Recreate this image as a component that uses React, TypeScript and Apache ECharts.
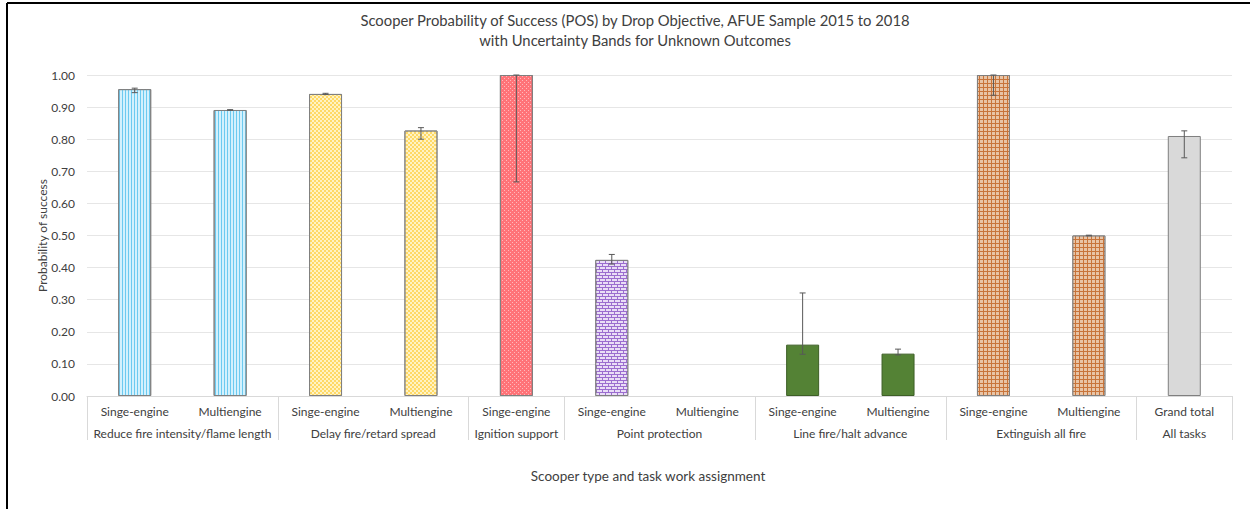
import React, { useEffect, useRef } from "react";
import * as echarts from "echarts";

const subLabels = [
  "Singe-engine", "Multiengine", "Singe-engine", "Multiengine", "Singe-engine",
  "Singe-engine", "Multiengine", "Singe-engine", "Multiengine", "Singe-engine",
  "Multiengine", "Grand total",
];
const groupLabels = [
  "Reduce fire intensity/flame length", "Delay fire/retard spread", "Ignition support",
  "Point protection", "Line fire/halt advance", "Extinguish all fire", "All tasks",
];
const groupSizes = [2, 2, 1, 2, 2, 2, 1];
const pos = [0.956, 0.891, 0.941, 0.827, 1.0, 0.424, null, 0.16, 0.132, 1.0, 0.5, 0.81];
const errLow = [0.945, 0.89, 0.939, 0.8, 0.667, 0.411, null, 0.13, 0.128, 0.937, 0.499, 0.742];
const errHigh = [0.959, 0.892, 0.943, 0.836, 1.0, 0.441, null, 0.321, 0.146, 1.0, 0.501, 0.826];
const groupOf = [0, 0, 1, 1, 2, 3, 3, 4, 4, 5, 5, 6];
const yTicks = [0, 0.1, 0.2, 0.3, 0.4, 0.5, 0.6, 0.7, 0.8, 0.9, 1.0];

const FONT = "Lato, 'Liberation Sans', sans-serif";
const BORDER = "#7f7f7f";

const groupStyles: any[] = [
  {
    color: "#d3f1fd",
    decal: { symbol: "rect", symbolSize: 1, color: "#6ccaf0", backgroundColor: "#d6f2fd",
      dashArrayX: [1, 0], dashArrayY: [1, 2], rotation: Math.PI / 2 },
  },
  {
    color: "#fff3c4",
    decal: { symbol: "rect", symbolSize: 1, color: "#ffd966", backgroundColor: "#fff8dc",
      dashArrayX: [[2, 2], [0, 2, 2, 0]], dashArrayY: [2, 0] },
  },
  {
    color: "#ff7378",
    decal: { symbol: "rect", symbolSize: 1, color: "rgba(255,255,255,0.5)", backgroundColor: "#ff7378",
      dashArrayX: [[1, 3], [0, 2, 1, 1]], dashArrayY: [1, 1] },
  },
  {
    color: "#9b6dcf",
    decal: { symbol: "rect", symbolSize: 1, color: "#e9ddf6", backgroundColor: "#9b6dcf",
      dashArrayX: [[5, 1], [2, 1, 3, 0]], dashArrayY: [2, 1] },
  },
  { color: "#548235", borderColor: "#3d5f26", decal: "none" },
  {
    color: "#c8743a",
    decal: { symbol: "rect", symbolSize: 1, color: "#e8c4a6", backgroundColor: "#c05e1c",
      dashArrayX: [3, 1], dashArrayY: [3, 1] },
  },
  { color: "#d9d9d9", decal: "none" },
];

export default function App() {
  const ref = useRef<HTMLDivElement>(null);
  useEffect(() => {
    if (!ref.current) return;
    const chart = echarts.init(ref.current, null, { renderer: "svg" });

    const groupCenters: number[] = [];
    const boundaries: number[] = [0];
    let acc = 0;
    groupSizes.forEach((s) => {
      groupCenters.push(acc + s / 2);
      acc += s;
      boundaries.push(acc);
    });

    const barData = pos.map((v, i) => ({
      value: v === null ? "-" : v,
      itemStyle: { borderColor: BORDER, borderWidth: 1, ...groupStyles[groupOf[i]] },
    }));
    const errData: any[] = [];
    errLow.forEach((lo, i) => {
      if (lo !== null && errHigh[i] !== null) errData.push([i, lo, errHigh[i]]);
    });

    chart.setOption({
      animation: false,
      aria: { enabled: true, decal: { show: true } },
      title: {
        text: "Scooper Probability of Success (POS) by Drop Objective, AFUE Sample 2015 to 2018\nwith Uncertainty Bands for Unknown Outcomes",
        left: 630,
        textAlign: "center",
        top: 5,
        textStyle: { fontFamily: FONT, fontSize: 14.8, fontWeight: "normal", color: "#404040", lineHeight: 20 },
      },
      grid: { left: 87, right: 18, top: 75, bottom: 113, containLabel: false },
      xAxis: [
        {
          type: "category",
          data: subLabels,
          position: "bottom",
          axisLine: { show: true, lineStyle: { color: "#d9d9d9" } },
          axisTick: { show: false },
          axisLabel: { interval: 0, margin: 9, fontFamily: FONT, fontSize: 12, color: "#404040" },
        },
        {
          type: "value",
          min: 0,
          max: 12,
          position: "bottom",
          axisLine: { show: false },
          splitLine: { show: false },
          axisTick: {
            show: true,
            length: 44,
            customValues: boundaries,
            lineStyle: { color: "#d9d9d9" },
          },
          axisLabel: {
            show: true,
            margin: 31,
            customValues: groupCenters,
            formatter: (v: number) => {
              const k = groupCenters.findIndex((c) => Math.abs(c - v) < 1e-6);
              return k >= 0 ? groupLabels[k] : "";
            },
            fontFamily: FONT,
            fontSize: 12,
            color: "#404040",
          },
        },
      ],
      yAxis: {
        type: "value",
        min: 0,
        max: 1,
        interval: 0.1,
        name: "Probability of success",
        nameLocation: "middle",
        nameGap: 39,
        nameMoveOverlap: false,
        nameTextStyle: { fontFamily: FONT, fontSize: 12, color: "#404040" },
        axisLine: { show: false },
        axisTick: { show: false },
        splitLine: { lineStyle: { color: "#e6e6e6" } },
        axisLabel: {
          margin: 12,
          fontFamily: FONT,
          fontSize: 12,
          color: "#404040",
          formatter: (v: number) => {
            const t = yTicks.find((x) => Math.abs(x - v) < 1e-6);
            return (t === undefined ? v : t).toFixed(2);
          },
        },
      },
      series: [
        {
          type: "bar",
          xAxisIndex: 0,
          barWidth: 33,
          data: barData,
        },
        {
          type: "custom",
          xAxisIndex: 0,
          itemStyle: { decal: "none" },
          encode: { x: 0, y: [1, 2] },
          data: errData,
          z: 10,
          renderItem: (params: any, api: any) => {
            const idx = api.value(0);
            const lo = api.coord([idx, api.value(1)]);
            const hi = api.coord([idx, api.value(2)]);
            const x = lo[0];
            const half = 3;
            const st = { stroke: "#595959", lineWidth: 1, fill: null };
            return {
              type: "group",
              children: [
                { type: "line", shape: { x1: x, y1: hi[1], x2: x, y2: lo[1] }, style: st },
                { type: "line", shape: { x1: x - half, y1: hi[1], x2: x + half, y2: hi[1] }, style: st },
                { type: "line", shape: { x1: x - half, y1: lo[1], x2: x + half, y2: lo[1] }, style: st },
              ],
            };
          },
        },
      ],
      graphic: [
        {
          type: "text",
          x: 648,
          y: 469,
          style: {
            text: "Scooper type and task work assignment",
            fontFamily: FONT,
            fontSize: 13.5,
            fill: "#404040",
            textAlign: "center",
          },
        },
        { type: "line", shape: { x1: 7, y1: 3, x2: 7, y2: 509 }, style: { stroke: "#000", lineWidth: 2 } },
        { type: "line", shape: { x1: 7, y1: 3, x2: 1250, y2: 3 }, style: { stroke: "#000", lineWidth: 2 } },
      ],
    });
    return () => chart.dispose();
  }, []);
  return (
    <div
      ref={ref}
      style={{ position: "absolute", left: 0, top: 0, width: 1250, height: 509, background: "#fff" }}
    />
  );
}
